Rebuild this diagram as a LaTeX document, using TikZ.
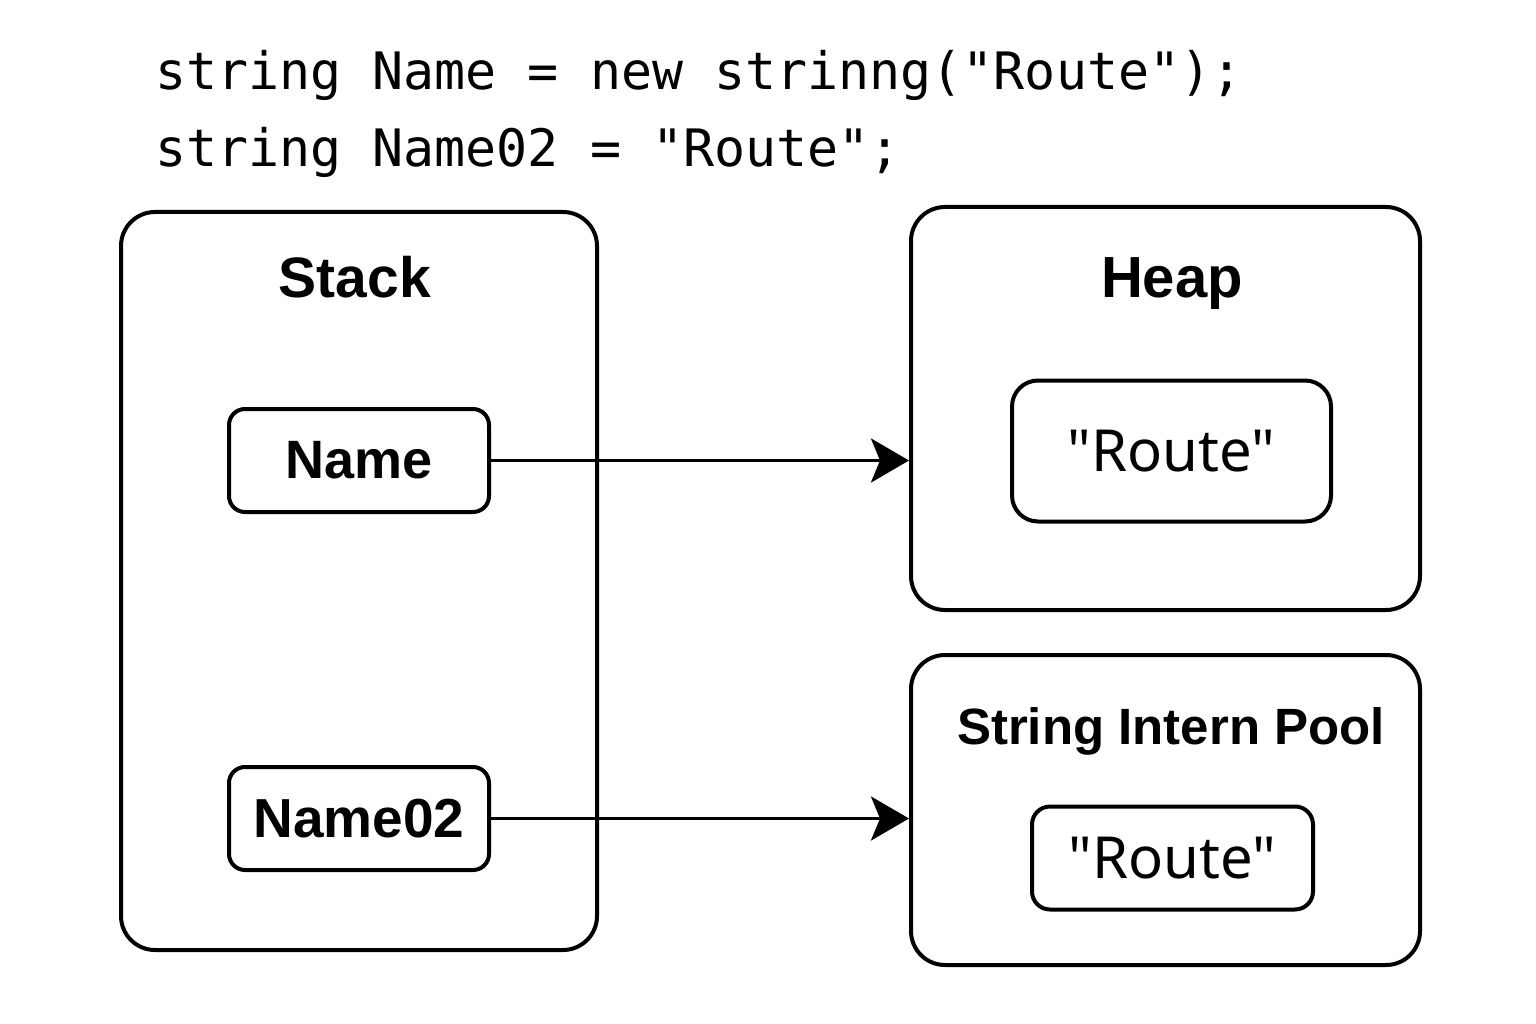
\documentclass[tikz,border=0pt]{standalone}
\usepackage{fontspec}
\setmainfont{Liberation Sans}
\newfontfamily\codefont{DejaVu Sans Mono}
\newfontfamily\valfont{Noto Sans}
\usetikzlibrary{arrows.meta,calc}
\begin{document}
\begin{tikzpicture}[x=1pt,y=-1pt,
  region/.style={draw=black, line width=4pt, rounded corners=34pt, inner sep=0pt},
  varbox/.style={draw=black, line width=4pt, rounded corners=16pt, inner sep=0pt,
    font=\fontsize{54}{58}\selectfont\bfseries},
  valbox/.style={draw=black, line width=4pt, rounded corners=26pt, inner sep=0pt,
    font=\valfont\fontsize{58}{62}\selectfont},
  title/.style={font=\fontsize{57}{62}\selectfont\bfseries, anchor=base, inner sep=0pt},
  codeline/.style={font=\codefont\fontsize{51.6}{56}\selectfont, anchor=base west, inner sep=0pt},
  ptr/.style={line width=3.8pt, -{Stealth[length=38pt,width=44pt,inset=9pt]}}
]
\useasboundingbox[fill=white] (0,0) rectangle (1536,1024);

\node[codeline] (code1) at (155,90) {string Name = new strinng("Route");};
\node[codeline] (code2) at (155,167) {string Name02 = "Route";};

\node[region, minimum width=476pt, minimum height=738pt] (stack) at (359,581) {};
\node[region, minimum width=509pt, minimum height=403pt] (heap) at (1165.5,408.5) {};
\node[region, minimum width=509pt, minimum height=310pt] (pool) at (1165.5,810) {};

\node[title] (stacklbl) at (355,298) {Stack};
\node[title, font=\fontsize{58}{62}\selectfont\bfseries] (heaplbl) at (1172,298) {Heap};
\node[title, font=\fontsize{51}{55}\selectfont\bfseries] (poollbl) at (1171,744) {String Intern Pool};

\node[varbox, minimum width=260pt, minimum height=103pt] (name) at (359,460.5) {Name};
\node[varbox, font=\fontsize{55}{59}\selectfont\bfseries, minimum width=260pt, minimum height=103pt] (name2) at (359,818.5) {Name02};

\node[valbox, minimum width=319pt, minimum height=141pt] (hroute) at (1171.5,451) {"Route"};
\node[valbox, rounded corners=18pt, minimum width=281pt, minimum height=103pt] (proute) at (1172.5,858) {"Route"};

\draw[ptr] (name.east) -- (name.east -| heap.west);
\draw[ptr] (name2.east) -- (name2.east -| pool.west);
\end{tikzpicture}
\end{document}
